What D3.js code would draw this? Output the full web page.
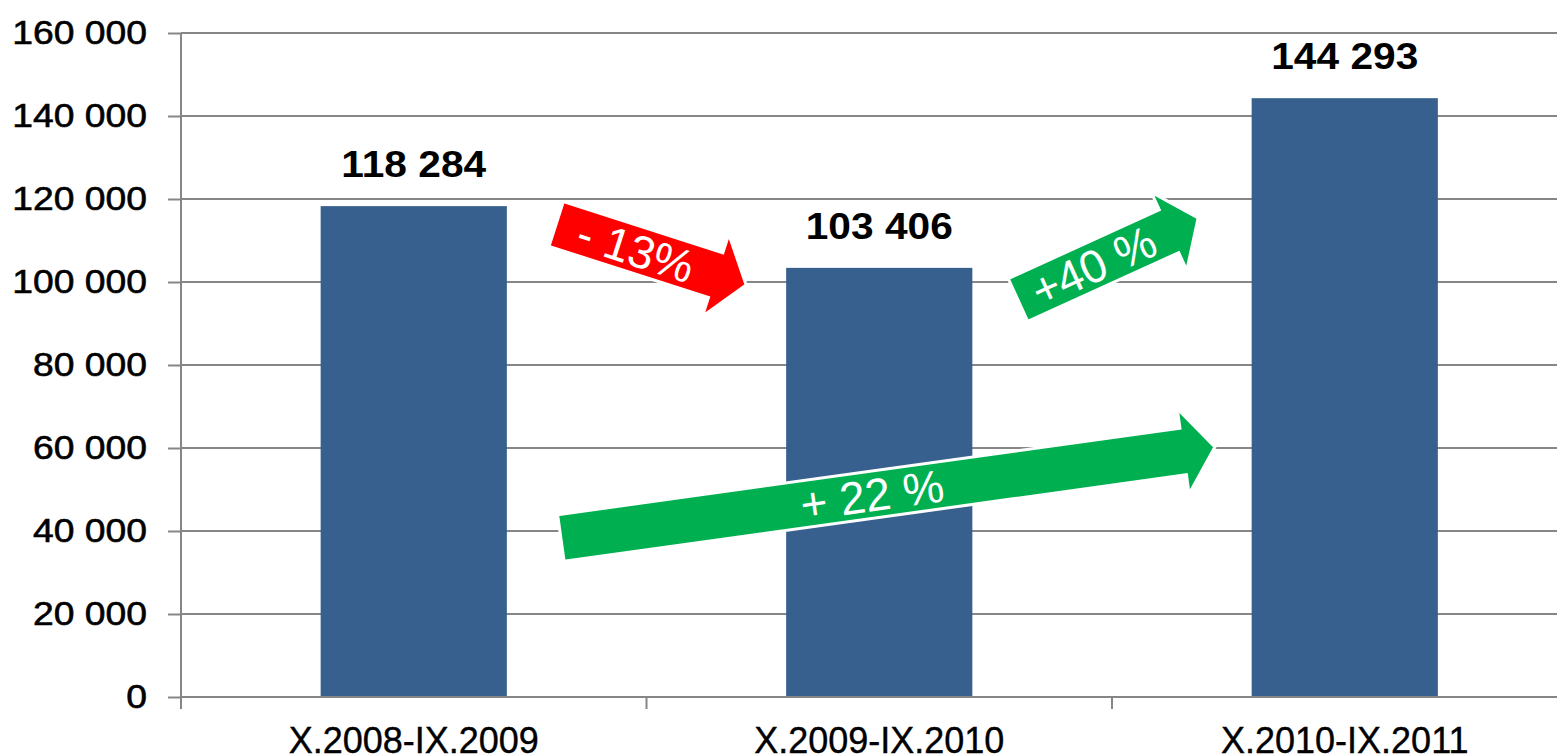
<!DOCTYPE html>
<html>
<head>
<meta charset="utf-8">
<script src="https://cdn.jsdelivr.net/npm/d3@7"></script>
<style>
  body { margin: 0; background: #fff; }
  svg { display: block; font-family: "Liberation Sans", Arial, sans-serif; }
</style>
</head>
<body>
<svg class="chart"></svg>
<script>
const categories = ["X.2008-IX.2009", "X.2009-IX.2010", "X.2010-IX.2011"];
const values = [118284, 103406, 144293];
const valueLabels = ["118 284", "103 406", "144 293"];
const yTicks = [0, 20000, 40000, 60000, 80000, 100000, 120000, 140000, 160000];

// change arrows, in data units (category position, value)
const arrowLabels = ["- 13%", "+40 %", "+ 22 %"];
const arrowColors = ["#ff0000", "#00b050", "#00b050"];
const arrowFrom = [[0.806, 113976], [1.798, 95663], [0.816, 38313]];
const arrowTo = [[1.214, 99277], [2.185, 115422], [2.221, 60241]];

const width = 1557;
const height = 755;
const margin = { top: 33, left: 181, bottom: 58 };
const bandW = 465.5;
const stretch = 1.13; // the source picture is a bit wider than Arial

const svg = d3.select(".chart").attr("width", width).attr("height", height);

const x = d3
  .scaleBand()
  .domain(categories)
  .range([margin.left, margin.left + bandW * categories.length]);
const xPos = d3
  .scaleLinear()
  .domain([0, categories.length])
  .range([margin.left, margin.left + bandW * categories.length]);
const y = d3
  .scaleLinear()
  .domain([0, 160000])
  .range([height - margin.bottom, margin.top]);

const fmt = (d) => d3.format(",")(d).replace(/,/g, " ");

// gridlines
svg
  .append("g")
  .selectAll("line")
  .data(yTicks.slice(1))
  .enter()
  .append("line")
  .attr("x1", margin.left)
  .attr("x2", width)
  .attr("y1", (d) => y(d))
  .attr("y2", (d) => y(d))
  .attr("stroke", "#868686")
  .attr("stroke-width", 2);

// bars
svg
  .append("g")
  .selectAll("rect")
  .data(values)
  .enter()
  .append("rect")
  .attr("x", (d, i) => x(categories[i]) + x.bandwidth() * 0.3)
  .attr("width", x.bandwidth() * 0.4)
  .attr("y", (d) => y(d))
  .attr("height", (d) => y(0) - y(d))
  .attr("fill", "#38608f");

// y axis
const yAxis = d3
  .axisLeft(y)
  .tickValues(yTicks)
  .tickSize(13)
  .tickPadding(20)
  .tickFormat(fmt);
const yG = svg
  .append("g")
  .attr("transform", "translate(" + margin.left + ",0)")
  .call(yAxis);
yG.select(".domain").attr("d", "M0," + y(160000) + "V" + (y(0) + 12));
yG.selectAll("line, path").attr("stroke", "#868686").attr("stroke-width", 2);
yG.selectAll("text")
  .attr("x", 0)
  .attr("transform", "translate(-34,0) scale(" + stretch + ",1)")
  .attr("font-size", "33px")
  .attr("font-family", "Liberation Sans, Arial, sans-serif")
  .attr("fill", "#000")
  .attr("stroke", "#000")
  .attr("stroke-width", 0.6);

// x axis
const xAxis = d3.axisBottom(x).tickSize(0).tickPadding(30);
const xG = svg
  .append("g")
  .attr("transform", "translate(0," + y(0) + ")")
  .call(xAxis);
xG.select(".domain")
  .attr("d", "M" + margin.left + ",0H" + width)
  .attr("stroke", "#868686")
  .attr("stroke-width", 2);
xG.selectAll("text")
  .attr("font-size", "36px")
  .attr("font-family", "Liberation Sans, Arial, sans-serif")
  .attr("fill", "#000")
  .attr("stroke", "#000")
  .attr("stroke-width", 0.4);
xG.selectAll(".sep")
  .data(d3.range(categories.length + 1))
  .enter()
  .append("line")
  .attr("class", "sep")
  .attr("x1", (d) => xPos(d))
  .attr("x2", (d) => xPos(d))
  .attr("y1", 0)
  .attr("y2", 12)
  .attr("stroke", "#868686")
  .attr("stroke-width", 2);

// value labels
svg
  .append("g")
  .selectAll("text")
  .data(values)
  .enter()
  .append("text")
  .attr(
    "transform",
    (d, i) =>
      "translate(" +
      (x(categories[i]) + x.bandwidth() / 2) +
      "," +
      (y(d) - 29) +
      ") scale(" +
      stretch +
      ",1)"
  )
  .attr("text-anchor", "middle")
  .attr("font-size", "36px")
  .attr("font-weight", "bold")
  .text((d, i) => valueLabels[i]);

// arrows
const headLen = 32;
const headHalf = 43;
const bodyHalf = 23.5;

arrowLabels.forEach((label, i) => {
  const t = [xPos(arrowFrom[i][0]), y(arrowFrom[i][1])];
  const p = [xPos(arrowTo[i][0]), y(arrowTo[i][1])];
  const len = Math.hypot(p[0] - t[0], p[1] - t[1]);
  const angle = (Math.atan2(p[1] - t[1], p[0] - t[0]) * 180) / Math.PI;
  const b = len - headLen;
  const pts = [
    [0, -bodyHalf],
    [b, -bodyHalf],
    [b, -headHalf],
    [len, 0],
    [b, headHalf],
    [b, bodyHalf],
    [0, bodyHalf],
  ];
  const g = svg
    .append("g")
    .attr("transform", "translate(" + t[0] + "," + t[1] + ") rotate(" + angle + ")");
  g.append("polygon")
    .attr("points", pts.map((q) => q.join(",")).join(" "))
    .attr("fill", arrowColors[i])
    .attr("stroke", "#fff")
    .attr("stroke-width", 3);
  g.append("text")
    .attr("x", b / 2)
    .attr("y", 0)
    .attr("dy", "0.36em")
    .attr("text-anchor", "middle")
    .attr("font-size", "46px")
    .attr("fill", "#fff")
    .text(label);
});
</script>
</body>
</html>
